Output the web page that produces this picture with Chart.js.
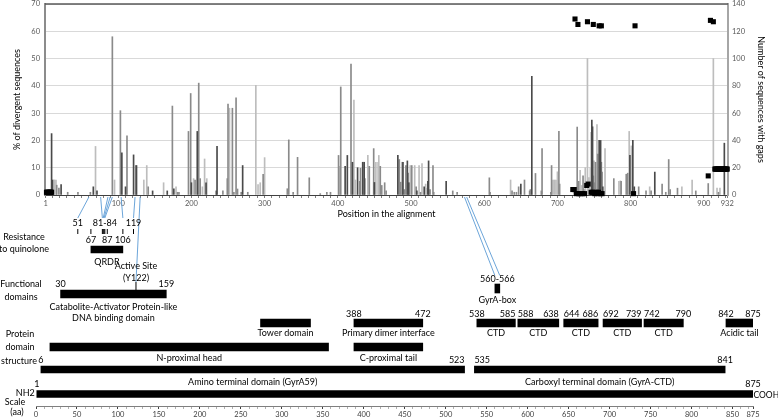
<!DOCTYPE html>
<html>
<head>
<meta charset="utf-8">
<script src="https://cdn.jsdelivr.net/npm/chart.js@4.4.1/dist/chart.umd.min.js"></script>
<style>
  html, body { margin: 0; padding: 0; background: #fff; }
  #wrap { position: relative; width: 778px; height: 419px; overflow: hidden; }
  #wrap canvas { position: absolute; left: 0; top: 0; }
</style>
</head>
<body>
<div id="wrap">
  <canvas id="alignChart" width="778" height="222"></canvas>
  <canvas id="domainChart" width="778" height="419"></canvas>
</div>
<script>
// ---- alignment profile (position in alignment, % divergent sequences) ----
const divergenceDark = [
  [9,22.5],[10,5.5],[22,3.8],[66,3],[71,1.5],[105,15.5],[110,3],[121,14.7],[125,10.8],[147,1.5],
  [167,1.5],[176,2.3],[200,4.5],[208,23.3],[220,4.5],[234,1.5],[235,17.8],[270,10.8],[410,10.5],
  [413,14.5],[420,12],[427,10],[434,12],[436,12],[450,4.6],[482,14.5],[489,12],[495,12.5],[497,4.5],
  [508,1.5],[518,3],[523,5],[524,12.5],[548,5],[650,4],[665,43.5],[747,27.5],[748,25],[757,20],
  [759,20],[762,3],[799,14.5],[803,20],[805,3],[833,8.4],[928,19]
]
const divergenceMid = [
  [16,3.6],[19,2.5],[31,1],[45,1],[62,1],[92,58],[103,30.9],[112,21.7],[124,10.8],[141,3],[174,32.6],
  [181,1],[183,1],[196,23.3],[199,37.2],[205,5.5],[210,41],[212,6],[243,1.5],[249,6],[250,33.3],
  [256,31.8],[258,1],[261,35.6],[263,2.2],[268,1],[277,1],[298,7.6],[331,2.3],[333,20.2],[339,1],
  [345,13.8],[361,6.3],[376,0.5],[385,1],[390,1],[401,14.5],[404,39.6],[418,48],[430,5],[431,9.8],
  [437,6],[443,10.5],[449,17],[458,10.5],[460,3.5],[464,4.5],[466,1.5],[484,13],[486,4.7],[488,12],
  [491,2],[493,10.8],[496,8],[501,10.8],[507,3],[513,1],[526,2],[530,10.8],[531,1],[557,1.5],[563,1],
  [607,6.3],[608,1],[638,1.5],[641,1],[644,1],[647,3],[655,5.5],[662,1.5],[663,2],[670,7.9],[678,1.5],
  [679,17],[691,1],[692,10.8],[702,23.3],[703,4],[723,1],[727,24.9],[729,5],[735,7],[736,2],[749,7],
  [751,4.5],[752,12],[755,15],[760,12],[761,8.4],[777,6],[787,5],[794,7.6],[796,8],[811,3],[821,1.5],
  [828,1.5],[843,4],[848,1],[852,13],[854,2],[864,2.5],[889,1.5],[906,4.2],[920,1]
]
const divergenceLight = [
  [12,5.5],[13,5.5],[15,5.5],[69,17.8],[95,5.5],[135,5.5],[139,10.8],[162,4.5],[179,3],[203,6],
  [215,3],[218,13.2],[221,6],[252,31.8],[288,40.2],[291,3.8],[294,4.5],[300,13.7],[402,10.5],
  [422,34.8],[424,5.5],[441,14.5],[452,12],[455,12],[456,14.5],[499,10.8],[505,10.8],[511,10.8],
  [515,11.5],[520,4],[521,2.5],[636,5.5],[694,5.5],[696,5.5],[698,5.5],[700,8.5],[731,9],[733,3.5],
  [738,10],[741,50],[743,6.4],[745,10],[746,23],[750,12.5],[754,25.8],[765,17],[784,5],[786,5.2],
  [798,23.3],[801,18],[826,3],[870,3],[884,5.5],[913,50],[918,2.5],[922,2.5]
]
// number of sequences with gaps (right axis)
const gapCounts = [
  [2,2],[3,2],[4,2],[5,2],[6,2],[7,2],[8,2],[9,2],
  [724,129],[728,125],[741,127],[749,125],[757,124],[760,124],[806,124],[909,128],[913,127],
  [721,4],[723,4],[726,1],[729,1],[731,1],[734,1],[737,1],[740,7],[742,8],[746,2],[748,2],[751,1],
  [753,2],[755,1],[756,2],[759,1],[761,1],[804,1],[906,14],
  [915,19],[916,19],[917,19],[918,19],[919,19],[920,19],[921,19],[922,19],[923,19],[924,19],
  [925,19],[926,19],[927,19],[928,19],[929,19],[930,19],[931,19],[932,19]
]
const alignTickLabels = [1, 100, 200, 300, 400, 500, 600, 700, 800, 900, 932]

// ---- GyrA domain map (residue numbers) ----
const residueTickLabels = [0, 50, 100, 150, 200, 250, 300, 350, 400, 450, 500, 550, 600, 650, 700, 750, 800, 850, 875]
const resistanceSites = [51, 67, 81, 82, 83, 84, 87, 106, 119]
const resistanceLabels = [['51', 51, 'above'], ['81-84', 84, 'above'], ['119', 119, 'above'],
  ['67', 67, 'below'], ['87', 87, 'below'], ['106', 106, 'below']]
const qrdrRange = [67, 106]
const activeSite = 122
const functionalRange = [30, 159]
const functionalName = ['Catabolite-Activator Protein-like', 'DNA binding domain']
const gyrABoxRange = [560, 566]
const upperDomains = [
  { name: 'Tower domain', start: 274, end: 335, numbered: false },
  { name: 'Primary dimer interface', start: 388, end: 472, numbered: true },
  { name: 'CTD', start: 538, end: 585, numbered: true },
  { name: 'CTD', start: 588, end: 638, numbered: true },
  { name: 'CTD', start: 644, end: 686, numbered: true },
  { name: 'CTD', start: 692, end: 739, numbered: true },
  { name: 'CTD', start: 742, end: 790, numbered: true },
  { name: 'Acidic tail', start: 842, end: 875, numbered: true }
]
const middleDomains = [
  { name: 'N-proximal head', start: 17, end: 357, numbered: false },
  { name: 'C-proximal tail', start: 388, end: 472, numbered: false }
]
const terminalDomains = [
  { name: 'Amino terminal domain (GyrA59)', start: 6, end: 523, numbered: true },
  { name: 'Carboxyl terminal domain (GyrA-CTD)', start: 535, end: 841, numbered: true }
]
const fullLength = [1, 875]
// lines linking alignment positions to residues
const connectorAlign = [60, 76, 86, 89, 92, 104, 123, 130, 573, 576]
const connectorResidue = [51, 81, 82, 83, 84, 106, 119, 122, 560, 566]

Chart.defaults.font.family = 'Lato'
Chart.defaults.color = '#000'
Chart.defaults.animation = false
Chart.defaults.events = []

const pts = arr => arr.map(([x, y]) => ({ x, y }))
const barStyle = { barThickness: 1, grouped: false, borderWidth: 0 }
const noPad = s => { s.paddingTop = 0; s.paddingBottom = 0; s.paddingLeft = 0; s.paddingRight = 0 }

const frameLine = {
  id: 'frameLine',
  afterDraw(chart) {
    const { ctx, chartArea: a } = chart
    ctx.save()
    ctx.strokeStyle = '#595959'
    ctx.lineWidth = 1.5
    ctx.beginPath()
    ctx.moveTo(a.left, a.top)
    ctx.lineTo(a.right, a.top)
    ctx.stroke()
    ctx.restore()
  }
}

const topChart = new Chart(document.getElementById('alignChart'), {
  type: 'bar',
  data: {
    datasets: [
      { type: 'scatter', data: pts(gapCounts), yAxisID: 'y2', pointStyle: 'rect', pointRadius: 3.6,
        backgroundColor: '#000', borderWidth: 0, clip: false },
      { data: pts(divergenceDark), backgroundColor: '#4a4a4a', ...barStyle },
      { data: pts(divergenceMid), backgroundColor: '#8a8a8a', ...barStyle },
      { data: pts(divergenceLight), backgroundColor: '#bdbdbd', ...barStyle }
    ]
  },
  options: {
    responsive: false,
    layout: { padding: { top: 3, left: 0, right: 0, bottom: 0 } },
    plugins: { legend: { display: false }, tooltip: { enabled: false } },
    scales: {
      x: {
        type: 'linear', min: 0, max: 933, offset: false,
        afterBuildTicks: s => {
          const t = [{ value: 1 }]
          for (let v = 10; v <= 930; v += 10) t.push({ value: v })
          t.push({ value: 932 })
          s.ticks = t
        },
        afterFit: s => { s.height = 27; noPad(s) },
        grid: { drawOnChartArea: false, tickLength: 3, color: '#7f7f7f', offset: false },
        border: { color: '#404040', width: 1 },
        ticks: {
          autoSkip: false, maxRotation: 0, padding: 1, color: '#595959', font: { size: 7.5 },
          callback: v => alignTickLabels.includes(v) ? String(v) : ''
        },
        title: { display: true, text: 'Position in the alignment', font: { size: 9 }, padding: 3 }
      },
      y: {
        min: 0, max: 70,
        afterFit: s => { s.width = 45; noPad(s) },
        grid: { color: '#d9d9d9', drawTicks: false },
        border: { color: '#8c8c8c', width: 2 },
        ticks: { stepSize: 10, padding: 5, color: '#595959', font: { size: 7.5 } },
        title: { display: true, text: '% of divergent sequences', font: { size: 9 }, padding: 12 }
      },
      y2: {
        position: 'right', min: 0, max: 140,
        afterFit: s => { s.width = 50; noPad(s) },
        grid: { drawOnChartArea: false, drawTicks: false },
        border: { color: '#a6a6a6', width: 2 },
        ticks: { stepSize: 20, padding: 4, color: '#595959', font: { size: 7.5 } },
        title: { display: true, text: 'Number of sequences with gaps', font: { size: 9 }, padding: 12 }
      }
    }
  },
  plugins: [frameLine]
})

// vertical placement of each track of the domain map
const rowLevel = {
  resistAbove: 0.7, resistTicks: 1.55, resistBelow: 2.4, qrdr: 3.35,
  activeTick: 7.0, gyrABox: 7.25, functional: 7.8,
  upper: 10.7, middle: 13.1, terminal: 15.35, full: 17.8
}
const rowBar = (data, thickness) => ({
  indexAxis: 'y', data, backgroundColor: '#000', borderWidth: 0,
  barThickness: thickness, grouped: false
})
const domainPts = (list, level) => list.map(d => ({ x: [d.start, d.end], y: level }))

const domainText = {
  id: 'domainText',
  afterDraw(chart) {
    const { ctx } = chart
    const xs = chart.scales.x, ys = chart.scales.y
    const X = v => xs.getPixelForValue(v)
    const Y = l => ys.getPixelForValue(l)
    const text = (s, x, y, align) => { ctx.textAlign = align || 'center'; ctx.fillText(s, x, y) }
    ctx.save()

    // connectors from the alignment axis
    const tx = topChart.scales.x
    const y0 = topChart.chartArea.bottom + 2
    ctx.strokeStyle = '#5b9bd5'
    ctx.lineWidth = 0.9
    connectorAlign.forEach((a, i) => {
      const r = connectorResidue[i]
      let y1
      if (resistanceSites.includes(r)) y1 = Y(rowLevel.resistAbove) - 5
      else if (r === activeSite) y1 = Y(rowLevel.activeTick) - 4
      else y1 = Y(rowLevel.gyrABox) - 13
      ctx.beginPath()
      ctx.moveTo(tx.getPixelForValue(a), y0)
      ctx.lineTo(X(r), y1)
      ctx.stroke()
    })

    ctx.fillStyle = '#000'
    ctx.textBaseline = 'middle'
    ctx.font = '9px Lato'

    // resistance to quinolone
    resistanceLabels.forEach(([s, at, side]) => {
      text(s, X(at), Y(side === 'above' ? rowLevel.resistAbove : rowLevel.resistBelow))
    })
    text('QRDR', X((qrdrRange[0] + qrdrRange[1]) / 2), Y(rowLevel.qrdr) + 12.5)

    // active site and functional domain
    text('Active Site', X(activeSite), Y(rowLevel.activeTick) - 20)
    text('(Y122)', X(activeSite), Y(rowLevel.activeTick) - 8)
    const fy = Y(rowLevel.functional)
    text(String(functionalRange[0]), X(functionalRange[0]), fy - 10)
    text(String(functionalRange[1]), X(functionalRange[1]), fy - 10)
    const fc = X((functionalRange[0] + functionalRange[1]) / 2)
    text(functionalName[0], fc, fy + 13)
    text(functionalName[1], fc, fy + 24)

    // GyrA-box
    const gx = X((gyrABoxRange[0] + gyrABoxRange[1]) / 2)
    text(gyrABoxRange.join('-'), gx, Y(rowLevel.gyrABox) - 9)
    text('GyrA-box', gx, Y(rowLevel.gyrABox) + 12)

    // structural domain rows
    const drawRow = (list, level, numUp, nameDown) => {
      const y = Y(level)
      list.forEach((d, i) => {
        const xa = X(d.start), xb = X(d.end)
        text(d.name, (xa + xb) / 2, y + nameDown)
        if (!d.numbered) return
        const prev = list[i - 1], next = list[i + 1]
        const tightL = prev && xa - X(prev.end) < 15
        const tightR = next && X(next.start) - xb < 15
        text(String(d.start), xa, y - numUp, tightL ? 'left' : 'center')
        text(String(d.end), xb, y - numUp, tightR ? 'right' : 'center')
      })
    }
    drawRow(upperDomains, rowLevel.upper, 8.5, 10.5)
    drawRow(middleDomains, rowLevel.middle, 9, 11)
    drawRow(terminalDomains, rowLevel.terminal, 9, 12.5)

    // full length
    const ny = Y(rowLevel.full)
    text(String(fullLength[0]), X(fullLength[0]), ny - 10)
    text(String(fullLength[1]), X(fullLength[1]), ny - 10)
    text('NH2', X(fullLength[0]) - 2, ny - 1, 'right')
    ctx.font = '8.5px Lato'
    text('COOH', X(fullLength[1]) + 0.5, ny + 1, 'left')
    ctx.font = '9px Lato'

    // track titles
    text('Resistance', 24, Y(rowLevel.resistBelow) - 3)
    text('to quinolone', 24, Y(rowLevel.resistBelow) + 9)
    text('Functional', 21, fy - 10)
    text('domains', 21, fy + 3)
    text('Protein', 20, Y(rowLevel.upper) + 11)
    text('domain', 20, Y(rowLevel.upper) + 24)
    text('structure', 19, Y(rowLevel.upper) + 38)
    text('Scale', 15, ny + 8)
    text('(aa)', 17, ny + 18)
    ctx.restore()
  }
}

new Chart(document.getElementById('domainChart'), {
  type: 'bar',
  data: {
    datasets: [
      { type: 'scatter', data: resistanceSites.map(s => ({ x: s, y: rowLevel.resistTicks })),
        pointStyle: 'line', rotation: 90, pointRadius: 2.5, borderColor: '#000', borderWidth: 1, clip: false },
      { type: 'scatter', data: [{ x: activeSite, y: rowLevel.activeTick }],
        pointStyle: 'line', rotation: 90, pointRadius: 4, borderColor: '#000', borderWidth: 1, clip: false },
      rowBar([{ x: qrdrRange, y: rowLevel.qrdr }], 7),
      rowBar([{ x: functionalRange, y: rowLevel.functional }], 8),
      rowBar([{ x: gyrABoxRange, y: rowLevel.gyrABox }], 9),
      rowBar(domainPts(upperDomains, rowLevel.upper), 8),
      rowBar(domainPts(middleDomains, rowLevel.middle), 8),
      rowBar(domainPts(terminalDomains, rowLevel.terminal), 7),
      rowBar([{ x: fullLength, y: rowLevel.full }], 7)
    ]
  },
  options: {
    responsive: false,
    layout: { padding: { top: 216, left: 36, right: 25, bottom: 0 } },
    plugins: { legend: { display: false }, tooltip: { enabled: false } },
    scales: {
      x: {
        type: 'linear', min: 0, max: 875, offset: false,
        afterBuildTicks: s => {
          const t = []
          for (let v = 0; v <= 870; v += 10) t.push({ value: v })
          t.push({ value: 875 })
          s.ticks = t
        },
        afterFit: s => { s.height = 13; noPad(s) },
        grid: {
          drawOnChartArea: false, tickLength: 3, offset: false,
          tickColor: c => residueTickLabels.includes(c.tick && c.tick.value) ? '#404040' : '#b0b0b0'
        },
        border: { color: '#7f7f7f', width: 1 },
        ticks: {
          autoSkip: false, maxRotation: 0, padding: 1, color: '#404040', font: { size: 7.5 },
          callback: v => residueTickLabels.includes(v) ? String(v) : ''
        }
      },
      y: { type: 'linear', display: false, min: 0, max: 19, reverse: true, offset: false }
    }
  },
  plugins: [domainText]
})
</script>
</body>
</html>
